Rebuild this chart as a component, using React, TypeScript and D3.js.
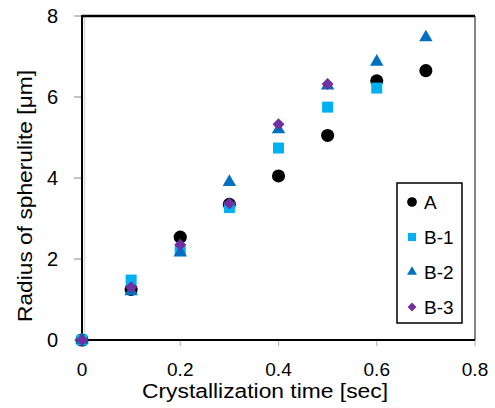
import React from "react";
import * as d3 from "d3";

const xTicks = [0, 0.2, 0.4, 0.6, 0.8];
const yTicks = [0, 2, 4, 6, 8];
const timeA = [0, 0.1, 0.2, 0.3, 0.4, 0.5, 0.6, 0.7];
const valA = [0, 1.25, 2.54, 3.35, 4.05, 5.05, 6.4, 6.65];
const timeB1 = [0, 0.1, 0.2, 0.3, 0.4, 0.5, 0.6];
const valB1 = [0, 1.48, 2.22, 3.27, 4.74, 5.75, 6.22];
const timeB2 = [0, 0.1, 0.2, 0.3, 0.4, 0.5, 0.6, 0.7];
const valB2 = [0, 1.2, 2.16, 3.9, 5.2, 6.28, 6.87, 7.47];
const timeB3 = [0, 0.1, 0.2, 0.3, 0.4, 0.5];
const valB3 = [0, 1.3, 2.35, 3.37, 5.33, 6.32];
const seriesNames = ["A", "B-1", "B-2", "B-3"];

const W = 495, H = 408;
const L = 82, R = 475, T = 16, B = 340;

const series = [
  { name: seriesNames[0], xs: timeA, ys: valA, color: "#000000", type: d3.symbolCircle, size: 135, rot: 0 },
  { name: seriesNames[1], xs: timeB1, ys: valB1, color: "#00B0F0", type: d3.symbolSquare, size: 121, rot: 0 },
  { name: seriesNames[2], xs: timeB2, ys: valB2, color: "#0070C0", type: d3.symbolTriangle, size: 78, rot: 0 },
  { name: seriesNames[3], xs: timeB3, ys: valB3, color: "#7030A0", type: d3.symbolSquare, size: 72, rot: 45 },
];

export default function App() {
  const x = d3.scaleLinear().domain([0, 0.8]).range([L, R]);
  const y = d3.scaleLinear().domain([0, 8]).range([B, T]);
  const font = "'Liberation Sans', Arial, sans-serif";
  const legendY = [202, 237, 272, 307];
  return (
    <svg width={W} height={H} style={{ position: "absolute", left: 0, top: 0 }} fontFamily={font}>
      <rect x={0} y={0} width={W} height={H} fill="#fff" />
      {/* plot border */}
      <line x1={L + 2.5} x2={L + 2.5} y1={T} y2={B} stroke="#d9d9d9" strokeWidth={1.5} />
      <line x1={L} x2={R} y1={T} y2={T} stroke="#000" strokeWidth={2.5} />
      <line x1={R} x2={R} y1={T} y2={B} stroke="#333" strokeWidth={1.2} />
      {/* ticks */}
      {yTicks.map((t) => (
        <g key={"y" + t}>
          <line x1={L - 8} x2={L} y1={y(t)} y2={y(t)} stroke="#888" strokeWidth={1} />
          <text x={58} y={y(t)} dy="0.36em" textAnchor="end" fontSize={20}>{t}</text>
        </g>
      ))}
      {xTicks.map((t) => (
        <g key={"x" + t}>
          <line x1={x(t)} x2={x(t)} y1={B} y2={B + 6} stroke="#bbb" strokeWidth={1.2} />
          <text x={x(t)} y={376} textAnchor="middle" fontSize={19}>{t}</text>
        </g>
      ))}
      <line x1={L} x2={L} y1={T - 1} y2={B + 1} stroke="#000" strokeWidth={2} />
      <line x1={L} x2={R} y1={B} y2={B} stroke="#000" strokeWidth={2} />
      {/* axis titles */}
      <text x={265} y={398} textAnchor="middle" fontSize={20} textLength={246} lengthAdjust="spacingAndGlyphs">Crystallization time [sec]</text>
      <text transform={`translate(32,196) rotate(-90)`} textAnchor="middle" fontSize={20} textLength={252} lengthAdjust="spacingAndGlyphs">Radius of spherulite [μm]</text>
      {/* points */}
      {series.map((s) => (
        <g key={s.name}>
          {s.xs.map((xv, i) => (
            <path
              key={i}
              d={d3.symbol().type(s.type).size(s.size)() || ""}
              transform={`translate(${x(xv)},${y(s.ys[i])}) rotate(${s.rot})`}
              fill={s.color}
            />
          ))}
        </g>
      ))}
      {/* legend */}
      <rect x={397} y={183} width={65} height={140} fill="#fff" stroke="#000" strokeWidth={1.5} />
      {series.map((s, i) => (
        <g key={"l" + s.name}>
          <path
            d={d3.symbol().type(s.type).size(s.size * 0.55)() || ""}
            transform={`translate(412,${legendY[i]}) rotate(${s.rot})`}
            fill={s.color}
          />
          <text x={424} y={legendY[i]} dy="0.36em" fontSize={19}>{s.name}</text>
        </g>
      ))}
    </svg>
  );
}
